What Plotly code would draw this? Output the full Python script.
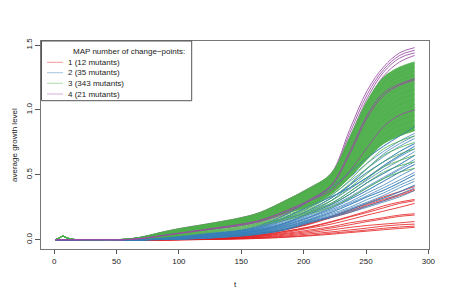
import plotly.graph_objects as go

# time grid (early shared part + late part)
T_EARLY = [1, 4, 7, 10, 14, 20, 40, 55]
T_LATE = [70, 85, 100, 125, 150, 165, 185, 205, 222, 237, 251, 264, 277, 289]

GREEN_EARLY = [0.0, 0.012, 0.028, 0.015, 0.004, 0.001, 0.0, 0.002]
FLAT_EARLY = [0.0, 0.0, 0.0, 0.0, 0.0, 0.0, 0.0, 0.0]

GREEN_LINES = [
    [.02, .055, .085, .125, .17, .21, .30, .40, .51, .79, 1.07, 1.25, 1.33, 1.37],
    [.02, .05, .08, .12, .165, .20, .29, .39, .50, .76, 1.03, 1.21, 1.29, 1.33],
    [.018, .048, .075, .115, .16, .195, .28, .38, .48, .73, 1.00, 1.18, 1.26, 1.30],
    [.015, .045, .07, .11, .155, .19, .27, .37, .47, .70, .96, 1.14, 1.23, 1.27],
    [.015, .042, .068, .105, .15, .185, .265, .36, .46, .68, .93, 1.11, 1.20, 1.24],
    [.012, .04, .065, .10, .145, .18, .26, .35, .45, .66, .90, 1.07, 1.16, 1.20],
    [.012, .038, .062, .098, .14, .175, .25, .34, .44, .64, .87, 1.03, 1.12, 1.16],
    [.01, .035, .06, .095, .135, .17, .245, .33, .43, .62, .83, .99, 1.08, 1.12],
    [.01, .033, .058, .092, .13, .165, .24, .32, .42, .60, .80, .95, 1.04, 1.08],
    [.01, .03, .055, .09, .128, .16, .23, .31, .41, .58, .77, .92, 1.00, 1.04],
    [.008, .028, .052, .087, .125, .155, .225, .30, .40, .56, .74, .88, .96, 1.00],
    [.008, .026, .05, .085, .12, .15, .22, .29, .39, .54, .71, .85, .92, .96],
    [.007, .025, .048, .082, .118, .147, .21, .28, .37, .52, .68, .81, .88, .92],
    [.006, .023, .045, .08, .115, .143, .205, .27, .36, .50, .65, .77, .84, .88],
    [.005, .02, .042, .078, .11, .14, .20, .26, .35, .48, .62, .74, .80, .84],
    [.005, .02, .04, .075, .107, .135, .19, .25, .34, .46, .59, .70, .76, .80],
    [.004, .018, .037, .07, .10, .13, .18, .24, .32, .43, .55, .65, .71, .75],
    [.004, .016, .035, .066, .095, .125, .17, .23, .30, .40, .51, .60, .66, .70],
    [.003, .015, .032, .062, .09, .12, .165, .22, .28, .37, .47, .56, .61, .65],
    [.003, .013, .03, .058, .085, .115, .16, .21, .27, .35, .44, .52, .57, .60],
    [.002, .012, .028, .055, .08, .11, .15, .20, .25, .32, .40, .47, .52, .55],
]
GREEN_CORE_TOP = 0      # index of the upper edge of the dense green band
GREEN_CORE_BOTTOM = 14  # index of the lower edge of the dense green band

BLUE_LINES = [
    [0, .012, .025, .05, .075, .11, .19, .30, .40, .52, .63, .72, .80, .87],
    [0, .01, .022, .045, .07, .10, .17, .27, .37, .48, .59, .68, .76, .82],
    [0, .009, .02, .042, .068, .095, .16, .25, .34, .45, .55, .64, .72, .78],
    [0, .008, .018, .04, .065, .09, .15, .23, .32, .42, .52, .60, .68, .74],
    [0, .007, .016, .038, .06, .085, .14, .22, .30, .39, .48, .56, .64, .70],
    [0, .006, .015, .035, .058, .08, .13, .21, .28, .37, .46, .54, .61, .68],
    [0, .005, .013, .033, .055, .075, .125, .20, .27, .35, .44, .51, .58, .65],
    [0, .005, .012, .03, .052, .072, .12, .19, .26, .33, .41, .48, .55, .62],
    [0, .004, .011, .028, .05, .07, .115, .18, .25, .32, .40, .47, .54, .60],
    [0, .004, .01, .026, .048, .067, .11, .175, .24, .31, .38, .45, .52, .58],
    [0, .003, .009, .024, .045, .064, .105, .17, .23, .29, .36, .42, .49, .55],
    [0, .003, .008, .022, .042, .06, .10, .16, .22, .28, .34, .40, .46, .52],
    [0, .003, .007, .02, .04, .057, .095, .155, .21, .27, .33, .38, .44, .50],
    [0, .002, .006, .018, .037, .054, .09, .15, .20, .25, .31, .36, .42, .47],
    [0, .002, .005, .016, .034, .05, .085, .145, .19, .24, .29, .34, .40, .45],
    [0, .002, .005, .015, .032, .048, .08, .14, .18, .23, .28, .32, .37, .42],
    [0, .001, .004, .014, .03, .045, .078, .135, .175, .22, .26, .30, .35, .40],
    [0, .001, .004, .012, .028, .043, .075, .13, .17, .21, .25, .29, .33, .38],
    [0, .01, .02, .045, .07, .10, .17, .26, .33, .40, .48, .57, .65, .72],
    [0, .004, .01, .03, .055, .08, .13, .21, .30, .42, .55, .66, .74, .80],
]

RED_LINES = [
    [0, 0, .003, .015, .035, .05, .08, .13, .18, .23, .28, .33, .37, .41],
    [0, 0, .002, .013, .032, .047, .077, .125, .175, .22, .27, .31, .35, .39],
    [0, 0, .002, .012, .03, .045, .075, .12, .17, .21, .26, .30, .34, .38],
    [0, 0, .002, .01, .025, .038, .065, .10, .14, .18, .22, .26, .29, .31],
    [0, 0, .001, .009, .023, .036, .062, .097, .135, .175, .21, .245, .28, .30],
    [0, 0, .001, .007, .02, .032, .055, .09, .12, .155, .19, .22, .25, .28],
    [0, 0, .001, .006, .017, .028, .048, .075, .10, .13, .15, .17, .19, .20],
    [0, 0, .001, .005, .015, .025, .042, .065, .09, .115, .14, .16, .18, .19],
    [0, 0, 0, .004, .012, .02, .035, .055, .075, .095, .11, .12, .13, .14],
    [0, 0, 0, .003, .01, .016, .028, .045, .06, .075, .09, .105, .115, .12],
    [0, 0, 0, .002, .007, .012, .022, .035, .05, .063, .075, .088, .098, .105],
    [0, 0, 0, .002, .006, .01, .018, .03, .042, .055, .066, .077, .087, .095],
]

# purple curves: first four sit on top of the green band (drawn under it),
# the rest are drawn over the green band
PURPLE_LINES = [
    [.02, .055, .085, .125, .17, .21, .30, .40, .51, .85, 1.15, 1.33, 1.44, 1.48],
    [.02, .05, .082, .12, .165, .205, .295, .395, .50, .82, 1.12, 1.31, 1.42, 1.46],
    [.018, .05, .08, .12, .16, .20, .29, .39, .49, .79, 1.09, 1.29, 1.40, 1.44],
    [.018, .048, .078, .118, .16, .20, .285, .385, .48, .76, 1.06, 1.26, 1.37, 1.42],
    [.01, .03, .05, .085, .12, .15, .22, .31, .42, .68, .96, 1.13, 1.20, 1.24],
    [.01, .03, .05, .082, .118, .148, .215, .30, .41, .66, .94, 1.11, 1.19, 1.23],
    [.008, .028, .048, .08, .11, .14, .20, .30, .38, .53, .71, .87, .96, 1.00],
]
PURPLE_UNDER = 4

LEGEND_TITLE = "MAP number of change\u2212points:"
GROUP_LABELS = ["1 (12 mutants)", "2 (35 mutants)", "3 (343 mutants)", "4 (21 mutants)"]
GROUP_RGB = [(228, 26, 28), (55, 126, 184), (77, 175, 74), (152, 78, 163)]

X_TICKS = [0, 50, 100, 150, 200, 250, 300]
Y_TICKS = [0.0, 0.5, 1.0, 1.5]
Y_TICK_TEXT = ["0.0", "0.5", "1.0", "1.5"]

FONT = "Liberation Sans, Arial, Helvetica, sans-serif"
T_ALL = T_EARLY + T_LATE


def rgba(rgb, a):
    return "rgba(%d,%d,%d,%s)" % (rgb[0], rgb[1], rgb[2], a)


fig = go.Figure()


def add_group(lines, early, rgb, alpha, width=1.0):
    for vals in lines:
        fig.add_trace(go.Scatter(x=T_ALL, y=early + vals, mode="lines",
                                 line=dict(color=rgba(rgb, alpha), width=width, shape="spline"),
                                 showlegend=False, hoverinfo="skip"))


add_group(RED_LINES, FLAT_EARLY, GROUP_RGB[0], 0.8)
add_group(BLUE_LINES, FLAT_EARLY, GROUP_RGB[1], 0.75)
add_group(PURPLE_LINES[:PURPLE_UNDER], FLAT_EARLY, GROUP_RGB[3], 0.85)

# dense green band (envelope of the many group-3 curves)
fig.add_trace(go.Scatter(x=T_ALL, y=GREEN_EARLY + GREEN_LINES[GREEN_CORE_BOTTOM],
                         mode="lines", line=dict(width=0, shape="spline"),
                         hoverinfo="skip", showlegend=False))
fig.add_trace(go.Scatter(x=T_ALL, y=GREEN_EARLY + GREEN_LINES[GREEN_CORE_TOP],
                         mode="lines", line=dict(width=0, shape="spline"),
                         fill="tonexty", fillcolor=rgba(GROUP_RGB[2], 0.95),
                         hoverinfo="skip", showlegend=False))

add_group(GREEN_LINES, GREEN_EARLY, GROUP_RGB[2], 0.8)
add_group(BLUE_LINES[::3], FLAT_EARLY, GROUP_RGB[1], 0.6)
add_group(PURPLE_LINES[PURPLE_UNDER:], FLAT_EARLY, GROUP_RGB[3], 0.85)

# plot area in pixels: x 41..429, y 41..249
L, R, T, B = 41, 21, 41, 51
W, H = 450, 300
pw, ph = W - L - R, H - T - B


def px_x(x):
    return (x - L) / pw


def px_y(y):
    return (H - B - y) / ph


shapes = []
annotations = []
# legend box
shapes.append(dict(type="rect", xref="paper", yref="paper",
                   x0=px_x(41.5), x1=px_x(191.7), y0=px_y(100.7), y1=px_y(41),
                   line=dict(color="#555555", width=1), fillcolor="white", layer="above"))
annotations.append(dict(xref="paper", yref="paper", x=px_x(70.5), y=px_y(51.7),
                        text=LEGEND_TITLE, showarrow=False, xanchor="left", yanchor="middle",
                        font=dict(size=8, color="#222222", family=FONT)))
item_y = [62.3, 72.7, 83.3, 94.0]
for lab, rgb, yy in zip(GROUP_LABELS, GROUP_RGB, item_y):
    shapes.append(dict(type="line", xref="paper", yref="paper",
                       x0=px_x(47), x1=px_x(63), y0=px_y(yy), y1=px_y(yy),
                       line=dict(color=rgba(rgb, 0.45), width=1), layer="above"))
    annotations.append(dict(xref="paper", yref="paper", x=px_x(65.5), y=px_y(yy),
                            text=lab, showarrow=False, xanchor="left", yanchor="middle",
                            font=dict(size=8, color="#222222", family=FONT)))

# axis titles
annotations.append(dict(xref="paper", yref="paper", x=px_x(235), y=px_y(284.5),
                        text="t", showarrow=False, xanchor="center", yanchor="middle",
                        font=dict(size=8, color="#222222", family=FONT)))
annotations.append(dict(xref="paper", yref="paper", x=px_x(14), y=px_y(145),
                        text="average growth level", showarrow=False, textangle=-90,
                        xanchor="center", yanchor="middle",
                        font=dict(size=8, color="#222222", family=FONT)))

fig.update_layout(
    width=W, height=H,
    margin=dict(l=L, r=R, t=T, b=B, pad=0, autoexpand=False),
    paper_bgcolor="white", plot_bgcolor="white",
    showlegend=False,
    font=dict(family=FONT, size=8, color="#222222"),
    shapes=shapes, annotations=annotations,
    xaxis=dict(range=[-10.5, 300.5], tickmode="array", tickvals=X_TICKS,
               ticks="outside", ticklen=4, tickcolor="#555555", automargin=False,
               showline=True, linecolor="#777777", linewidth=1, mirror=True,
               showgrid=False, zeroline=False, tickfont=dict(size=8)),
    yaxis=dict(range=[-0.0715, 1.531], tickmode="array", tickvals=Y_TICKS,
               ticktext=Y_TICK_TEXT, tickangle=-90, automargin=False,
               ticks="outside", ticklen=5, tickcolor="#555555",
               showline=True, linecolor="#777777", linewidth=1, mirror=True,
               showgrid=False, zeroline=False, tickfont=dict(size=8)),
)

fig.write_html("out.html", config={"displayModeBar": False, "staticPlot": True},
               post_script="document.body.style.margin='0';")
